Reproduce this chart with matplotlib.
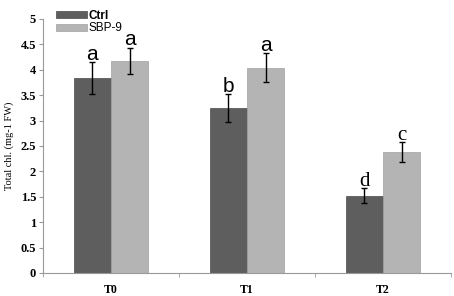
import matplotlib
matplotlib.use("Agg")
import matplotlib.pyplot as plt
import numpy as np

groups = ["T0", "T1", "T2"]
ctrl = [3.84, 3.25, 1.52]
ctrl_err = [0.31, 0.27, 0.15]
sbp = [4.17, 4.04, 2.38]
sbp_err = [0.26, 0.28, 0.19]
ctrl_letters = ["a", "b", "d"]
sbp_letters = ["a", "a", "c"]
letter_fonts_ctrl = ["Liberation Sans", "Liberation Sans", "Liberation Serif"]
letter_fonts_sbp = ["Liberation Sans", "Liberation Sans", "Liberation Serif"]

fig = plt.figure(figsize=(4.54, 2.96), dpi=100)
ax = fig.add_axes([0.095, 0.078, 0.898, 0.858])

x = np.arange(len(groups))
w = 0.275
ekw = dict(ecolor="black", elinewidth=1.0, capsize=2.5, capthick=1.0)
ax.bar(x - w / 2, ctrl, w, yerr=ctrl_err, color="#5e5e5e", edgecolor="#4a4a4a",
       linewidth=0.5, error_kw=ekw, label="Ctrl")
ax.bar(x + w / 2, sbp, w, yerr=sbp_err, color="#b4b4b4", edgecolor="#a0a0a0",
       linewidth=0.5, error_kw=ekw, label="SBP-9")

for i in range(len(groups)):
    ax.text(x[i] - w / 2, ctrl[i] + ctrl_err[i] + 0.05, ctrl_letters[i],
            ha="center", va="baseline", fontsize=15, family=letter_fonts_ctrl[i])
    ax.text(x[i] + w / 2, sbp[i] + sbp_err[i] + 0.05, sbp_letters[i],
            ha="center", va="baseline", fontsize=15, family=letter_fonts_sbp[i])

ax.set_xlim(-0.5, 2.5)
ax.set_ylim(0, 5)
ax.set_yticks(np.arange(0, 5.01, 0.5))
ax.set_yticklabels(["0", "0.5", "1", "1.5", "2", "2.5", "3", "3.5", "4", "4.5", "5"],
                   family="Liberation Serif", fontweight="bold", fontsize=9)
ax.set_xticks(x)
ax.set_xticklabels(groups, family="Liberation Serif", fontweight="bold", fontsize=8.5)
ax.set_xticks([-0.5, 0.5, 1.5, 2.5], minor=True)
ax.tick_params(axis="x", which="major", length=0, pad=8)
ax.tick_params(axis="x", which="minor", length=3, color="#999999")
ax.tick_params(axis="y", length=3, color="#999999", pad=2)
ax.set_ylabel("Total chl. (mg-1 FW)", family="Liberation Serif", fontsize=7.5, labelpad=5)

for side in ("top", "right"):
    ax.spines[side].set_visible(False)
for side in ("left", "bottom"):
    ax.spines[side].set_color("#999999")
    ax.spines[side].set_linewidth(0.8)

leg = ax.legend(loc="upper left", bbox_to_anchor=(0.02, 1.055), frameon=False,
                handlelength=2.6, handleheight=0.55, labelspacing=0.05,
                handletextpad=0.15, borderaxespad=0,
                prop={"family": "Liberation Sans", "size": 8.5})
leg.get_texts()[0].set_fontweight("bold")

fig.savefig("out.png", dpi=100)
